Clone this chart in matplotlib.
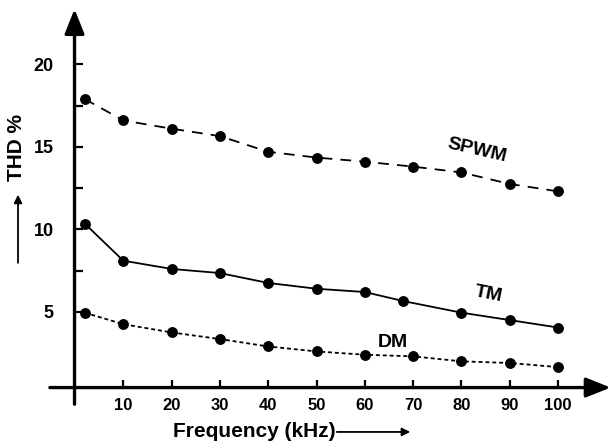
import matplotlib.pyplot as plt
from matplotlib.patches import ArrowStyle

plt.rcParams['font.family'] = ['Liberation Sans', 'DejaVu Sans']
plt.rcParams['font.weight'] = 'bold'

# datos
freq = [2, 10, 20, 30, 40, 50, 60, 70, 80, 90, 100]
freq_tm = [2, 10, 20, 30, 40, 50, 60, 68, 80, 90, 100]
spwm = [17.9, 16.6, 16.1, 15.65, 14.7, 14.35, 14.1, 13.8, 13.45, 12.75, 12.3]
tm = [10.35, 8.1, 7.6, 7.35, 6.75, 6.4, 6.2, 5.65, 4.95, 4.5, 4.05]
dm = [4.95, 4.25, 3.75, 3.35, 2.9, 2.6, 2.4, 2.3, 2.0, 1.9, 1.65]
x_ticks = [10, 20, 30, 40, 50, 60, 70, 80, 90, 100]
y_ticks = [5, 10, 15, 20]
y_minor = [7.5, 12.5, 17.5]

fig = plt.figure(figsize=(6.11, 4.43), dpi=100)
ax = fig.add_axes([0, 0, 1, 1])
ax.set_xlim(-15.53, 110.97)
ax.set_ylim(-2.95, 23.9)

# lineas de las tres series
ax.plot(freq, spwm, color='black', lw=1.3, ls=(0, (6, 4.5)), marker='o', ms=6.8, zorder=3)
ax.plot(freq_tm, tm, color='black', lw=1.3, ls='-', marker='o', ms=6.8, zorder=3)
ax.plot(freq, dm, color='black', lw=1.3, ls=(0, (2.2, 1.6)), marker='o', ms=6.8, zorder=3)

# ejes con flechas
for s in ax.spines.values():
    s.set_visible(False)
ax.spines['left'].set_position(('data', -0.1))
ax.spines['bottom'].set_position(('data', 0.41))

flecha = ArrowStyle('-|>', head_length=0.75, head_width=0.3)
ax.annotate('', xy=(-0.1, 23.35), xytext=(-0.1, -0.6),
            arrowprops=dict(arrowstyle=flecha, lw=2.4, color='black', mutation_scale=20,
                            shrinkA=0, shrinkB=0))
ax.annotate('', xy=(110.9, 0.41), xytext=(-5.2, 0.41),
            arrowprops=dict(arrowstyle=flecha, lw=2.4, color='black', mutation_scale=20,
                            shrinkA=0, shrinkB=0))

ax.set_xticks(x_ticks)
ax.set_yticks(y_ticks)
ax.set_yticks(y_minor, minor=True)
ax.tick_params(axis='both', which='both', direction='in', length=5.5, width=1.6, color='black')
ax.tick_params(axis='y', which='major', pad=15, labelsize=13)
ax.tick_params(axis='x', which='major', pad=7.5, labelsize=12)
for lab in ax.get_xticklabels() + ax.get_yticklabels():
    lab.set_fontweight('bold')

# etiquetas de las curvas
ax.text(83.2, 14.8, 'SPWM', fontsize=14, fontweight='bold', rotation=-13, ha='center', va='center')
ax.text(85.5, 6.05, 'TM', fontsize=14, fontweight='bold', rotation=-11, ha='center', va='center')
ax.text(65.9, 3.15, 'DM', fontsize=14, fontweight='bold', ha='center', va='center')

# titulos de los ejes con sus flechas
ax.text(-12.1, 14.95, 'THD %', fontsize=15, fontweight='bold', rotation=90, ha='center', va='center')
ax.annotate('', xy=(-11.8, 12.1), xytext=(-11.8, 7.97),
            arrowprops=dict(arrowstyle='-|>', lw=1.3, color='black', mutation_scale=12,
                            shrinkA=0, shrinkB=0))
ax.text(20.3, -2.28, 'Frequency (kHz)', fontsize=15, fontweight='bold', ha='left', va='center')
ax.annotate('', xy=(69.4, -2.28), xytext=(54.2, -2.28),
            arrowprops=dict(arrowstyle='-|>', lw=1.3, color='black', mutation_scale=12,
                            shrinkA=0, shrinkB=0))

fig.savefig('out.png', dpi=100)
